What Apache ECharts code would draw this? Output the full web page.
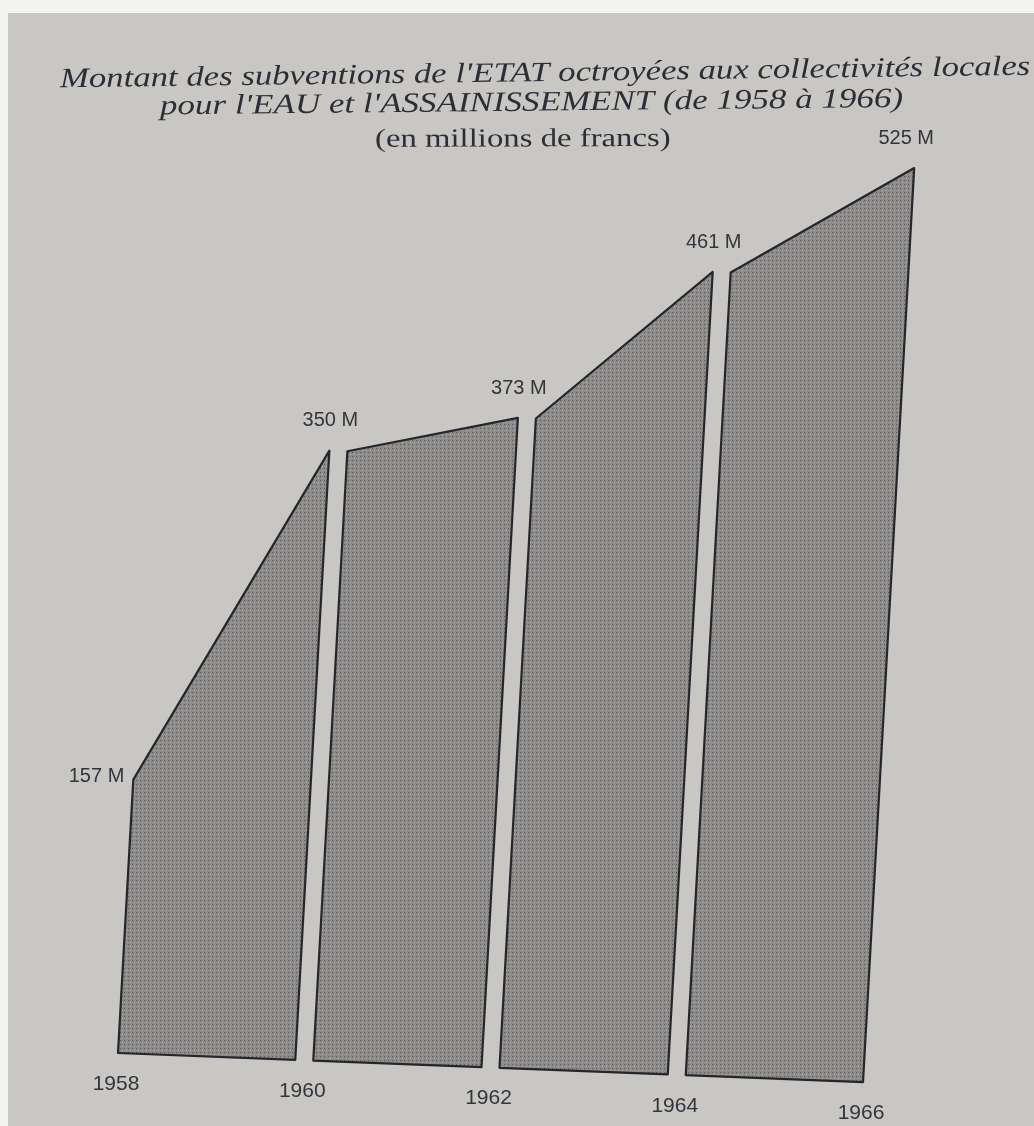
<!DOCTYPE html>
<html>
<head>
<meta charset="utf-8">
<script src="https://cdn.jsdelivr.net/npm/echarts@6/dist/echarts.min.js"></script>
<style>
  html, body { margin: 0; padding: 0; background: #f4f4f2; }
  #chart { width: 1034px; height: 1126px; }
</style>
</head>
<body>
<div id="chart"></div>
<script>
// années et montants (millions de francs)
var years = [1958, 1960, 1962, 1964, 1966];
var amounts = [157, 350, 373, 461, 525];
var valueLabels = ['157 M', '350 M', '373 M', '461 M', '525 M'];
var yearLabels = ['1958', '1960', '1962', '1964', '1966'];

var titleLines = [
    "Montant des subventions de l'ETAT octroyées aux collectivités locales",
    "pour l'EAU et l'ASSAINISSEMENT (de 1958 à 1966)",
    "(en millions de francs)"
];

// photo prise de biais : cisaillement léger
var SHEAR_X = 0.056;   // les bords verticaux penchent vers la droite
var SLOPE_Y = 0.039;   // la ligne de base descend vers la droite
var GAP = 9;           // demi-largeur des blancs entre les blocs

// motif tramé du remplissage
function makePattern() {
    var c = document.createElement('canvas');
    c.width = 4; c.height = 4;
    var ctx = c.getContext('2d');
    ctx.fillStyle = '#8c8b89';
    ctx.fillRect(0, 0, 4, 4);
    ctx.fillStyle = '#5a5958';
    ctx.fillRect(0, 0, 1, 1);
    ctx.fillStyle = '#b0afad';
    ctx.fillRect(2, 2, 1, 1);
    return c;
}
var pattern = makePattern();

var chart = echarts.init(document.getElementById('chart'));

function warp(p, x0, base) {
    // p : point en pixels de la grille, x0 / base : origine
    return [p[0] + SHEAR_X * (base - p[1]), p[1] + SLOPE_Y * (p[0] - x0)];
}

var segData = [];
for (var i = 0; i < years.length - 1; i++) {
    segData.push([years[i], amounts[i], years[i + 1], amounts[i + 1], i]);
}

var titleFont = 'italic 28px "Liberation Serif"';

var option = {
    backgroundColor: '#f4f4f2',
    animation: false,
    grid: { left: 118, right: 171, top: 139, bottom: 73 },
    xAxis: { type: 'value', min: 1958, max: 1966, show: false },
    yAxis: { type: 'value', min: 0, max: 525, show: false },
    graphic: [
        { type: 'rect', z: -10, shape: { x: 8, y: 13, width: 1026, height: 1113 },
          style: { fill: '#c9c7c4' } },
        { type: 'text', x: 60, y: 80, rotation: 0.013, scaleX: 1.24,
          style: { text: titleLines[0], font: titleFont, fill: '#2e2d36', verticalAlign: 'middle' } },
        { type: 'text', x: 160, y: 107, rotation: 0.01, scaleX: 1.25,
          style: { text: titleLines[1], font: titleFont, fill: '#2e2d36', verticalAlign: 'middle' } },
        { type: 'text', x: 375, y: 140, rotation: 0.003, scaleX: 1.26,
          style: { text: titleLines[2], font: '26px "Liberation Serif"', fill: '#2e2d36', verticalAlign: 'middle' } }
    ],
    series: [
        {
            type: 'custom',
            data: segData,
            renderItem: function (params, api) {
                var a = api.coord([api.value(0), api.value(1)]);
                var b = api.coord([api.value(2), api.value(3)]);
                var a0 = api.coord([api.value(0), 0]);
                var b0 = api.coord([api.value(2), 0]);
                var x0 = api.coord([years[0], 0])[0];
                var base = a0[1];
                var idx = api.value(4);
                var dl = idx === 0 ? 0 : GAP;
                var dr = idx === segData.length - 1 ? 0 : GAP;
                var pts = [
                    [a0[0] + dl, a0[1]],
                    [a[0] + dl, a[1]],
                    [b[0] - dr, b[1]],
                    [b0[0] - dr, b0[1]]
                ].map(function (p) { return warp(p, x0, base); });
                return {
                    type: 'polygon',
                    shape: { points: pts },
                    style: {
                        fill: { image: pattern, repeat: 'repeat' },
                        stroke: '#26252c',
                        lineWidth: 2.2,
                        lineJoin: 'round'
                    }
                };
            },
            silent: true,
            z: 2
        },
        {
            // étiquettes des valeurs et des années
            type: 'custom',
            data: years.map(function (y, i) { return [y, amounts[i], i]; }),
            renderItem: function (params, api) {
                var i = api.value(2);
                var top = api.coord([api.value(0), api.value(1)]);
                var bot = api.coord([api.value(0), 0]);
                var x0 = api.coord([years[0], 0])[0];
                var base = bot[1];
                var t = warp(top, x0, base);
                var b = warp(bot, x0, base);
                var labelFont = '20px "Liberation Sans"';
                var valText;
                if (i === 0) {
                    valText = { type: 'text', x: t[0] - 9, y: t[1] - 3,
                        style: { text: valueLabels[i], font: labelFont, fill: '#35343c',
                                 align: 'right', verticalAlign: 'middle' } };
                } else {
                    valText = { type: 'text', x: t[0] - 8, y: t[1] - 30,
                        style: { text: valueLabels[i], font: labelFont, fill: '#35343c',
                                 align: 'center', verticalAlign: 'middle' } };
                }
                var yearText = { type: 'text', x: b[0] - 2, y: b[1] + 31,
                    style: { text: yearLabels[i], font: '21px "Liberation Sans"', fill: '#35343c',
                             align: 'center', verticalAlign: 'middle' } };
                return { type: 'group', children: [valText, yearText] };
            },
            silent: true,
            z: 3
        }
    ]
};
chart.setOption(option);
</script>
</body>
</html>
